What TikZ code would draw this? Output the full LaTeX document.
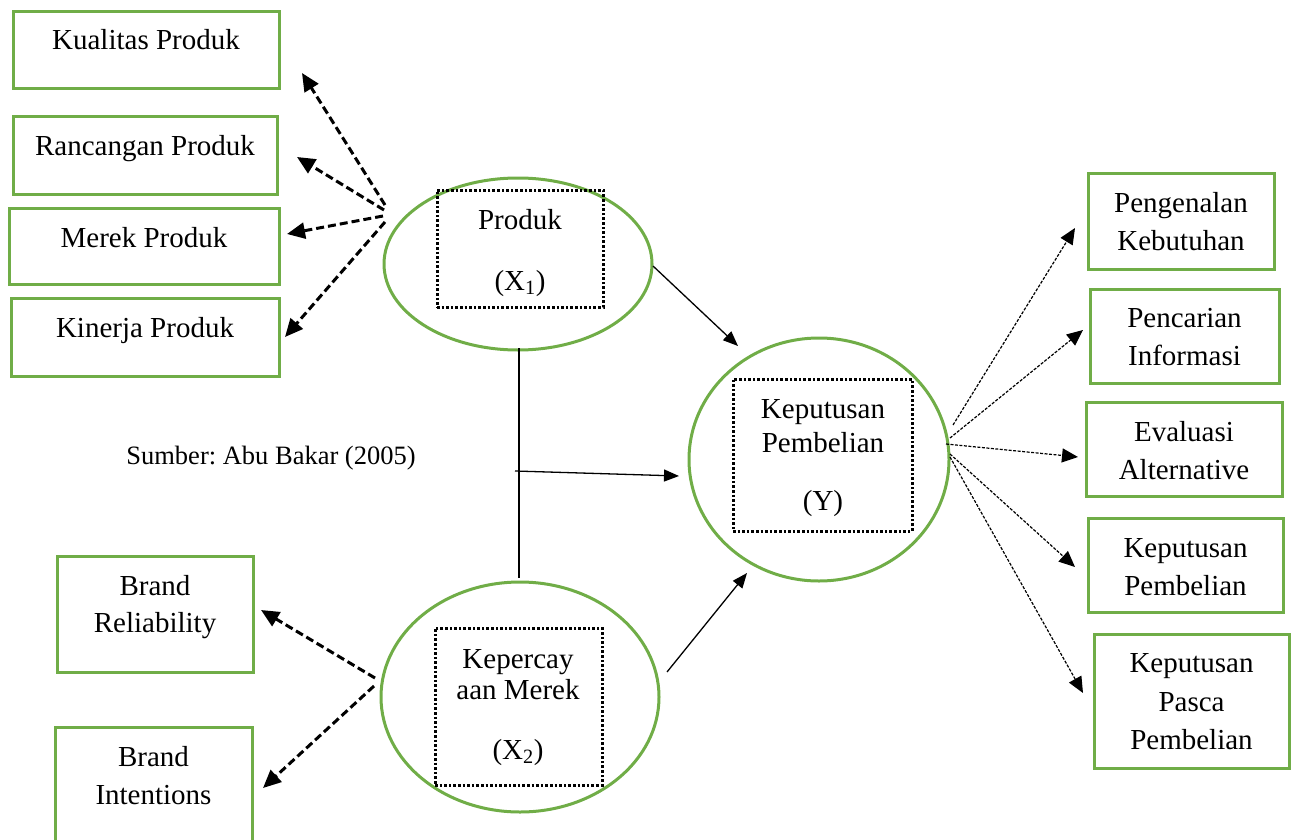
\documentclass[tikz,border=0pt]{standalone}
\usepackage{fontspec}
\setmainfont{Liberation Serif}
\usetikzlibrary{shapes.geometric,arrows.meta}
\definecolor{gr}{RGB}{112,173,71}
\frenchspacing
\tikzset{
  gbox/.style={draw=gr, line width=3pt, rectangle, inner sep=0pt},
  ell/.style={draw=gr, line width=3pt, ellipse, inner sep=0pt},
  dbox/.style={draw=black, line width=3pt, dash pattern=on 2.6pt off 2pt, rectangle, inner sep=0pt},
  txt/.style={anchor=base, inner sep=0pt, font=\fontsize{29}{35}\selectfont},
  stxt/.style={anchor=base, inner sep=0pt, font=\fontsize{26.5}{31}\selectfont},
  thickdash/.style={line width=3pt, dash pattern=on 8pt off 4pt, -{Triangle[length=18pt,width=16pt]}},
  thindash/.style={line width=1.2pt, dash pattern=on 3pt off 1.5pt, -{Triangle[length=16pt,width=14pt]}},
  solidarr/.style={line width=1.3pt, -{Triangle[length=15pt,width=12pt]}},
}
\begin{document}
\begin{tikzpicture}[x=1pt,y=-1pt]
\useasboundingbox (0,0) rectangle (1295,840);
% left boxes
\node[gbox, minimum width=266pt, minimum height=77pt] (b1) at (146,50.5) {};
\node[txt] (t1) at (146,50) {Kualitas Produk};
\node[gbox, minimum width=264pt, minimum height=77pt] (b2) at (145,155.5) {};
\node[txt] (t2) at (145,155) {Rancangan Produk};
\node[gbox, minimum width=270pt, minimum height=76pt] (b3) at (144,246) {};
\node[txt] (t3) at (144,247) {Merek Produk};
\node[gbox, minimum width=268pt, minimum height=78pt] (b4) at (145,337) {};
\node[txt] (t4) at (145,337) {Kinerja Produk};
\node[gbox, minimum width=196pt, minimum height=116pt] (b5) at (155,614) {};
\node[txt] (t5a) at (155,595) {Brand};
\node[txt] (t5b) at (155,632) {Reliability};
\node[gbox, minimum width=197pt, minimum height=126pt] (b6) at (153.5,790) {};
\node[txt] (t6a) at (153.5,766) {Brand};
\node[txt] (t6b) at (153.5,804) {Intentions};
% right boxes
\node[gbox, minimum width=186pt, minimum height=96pt] (r1) at (1181,221) {};
\node[txt] (r1a) at (1181,212) {Pengenalan};
\node[txt] (r1b) at (1181,250) {Kebutuhan};
\node[gbox, minimum width=189pt, minimum height=94pt] (r2) at (1184.5,336) {};
\node[txt] (r2a) at (1184.5,327) {Pencarian};
\node[txt] (r2b) at (1184.5,365) {Informasi};
\node[gbox, minimum width=196pt, minimum height=94pt] (r3) at (1184,449) {};
\node[txt] (r3a) at (1184,441) {Evaluasi};
\node[txt] (r3b) at (1184,479) {Alternative};
\node[gbox, minimum width=195pt, minimum height=94pt] (r4) at (1185.5,565) {};
\node[txt] (r4a) at (1185.5,557) {Keputusan};
\node[txt] (r4b) at (1185.5,595) {Pembelian};
\node[gbox, minimum width=195pt, minimum height=134pt] (r5) at (1191.5,701) {};
\node[txt] (r5a) at (1191.5,672) {Keputusan};
\node[txt] (r5b) at (1191.5,711) {Pasca};
\node[txt] (r5c) at (1191.5,749) {Pembelian};
% ellipses
\node[ell, minimum width=268pt, minimum height=172pt] (P) at (518,264) {};
\node[dbox, minimum width=166pt, minimum height=117pt] (Pd) at (520,248.5) {};
\node[txt] (Pa) at (520,229) {Produk};
\node[txt] (Pb) at (520,290) {(X\textsubscript{1})};
\node[ell, minimum width=260pt, minimum height=243pt] (Y) at (819,459.5) {};
\node[dbox, minimum width=179pt, minimum height=152pt] (Yd) at (822.5,455) {};
\node[txt] (Ya) at (823,418) {Keputusan};
\node[txt] (Yb) at (823,452) {Pembelian};
\node[txt] (Yc) at (823,510) {(Y)};
\node[ell, minimum width=278pt, minimum height=230pt] (K) at (520,697) {};
\node[dbox, minimum width=167pt, minimum height=157pt] (Kd) at (518.5,706.5) {};
\node[txt] (Ka) at (518,668) {Kepercay};
\node[txt] (Kb) at (518,699) {aan Merek};
\node[txt] (Kc) at (518,759) {(X\textsubscript{2})};
% source
\node[stxt] (src) at (271,464) {Sumber: Abu Bakar (2005)};
% connector coordinates
\coordinate (ps1) at (385,205);
\coordinate (ps2) at (384,210);
\coordinate (ps3) at (383,216);
\coordinate (ps4) at (385,222);
\coordinate (pe1) at (302,73);
\coordinate (pe2) at (297,157);
\coordinate (pe3) at (287,234);
\coordinate (pe4) at (285,337);
\coordinate (ks1) at (375,678);
\coordinate (ks2) at (374,686);
\coordinate (ke1) at (261,610);
\coordinate (ke2) at (263,788);
\coordinate (ys1) at (953,425);
\coordinate (ys2) at (950,438);
\coordinate (ys3) at (946,444);
\coordinate (ys4) at (950,454);
\coordinate (ys5) at (950,457);
\coordinate (ye1) at (1075,228);
\coordinate (ye2) at (1083,330);
\coordinate (ye3) at (1078,457);
\coordinate (ye4) at (1075,567);
\coordinate (ye5) at (1083,693);
\coordinate (a1) at (653,266);
\coordinate (a1e) at (738,346);
\coordinate (a2) at (667,672);
\coordinate (a2e) at (747,573);
\coordinate (v1) at (519,348);
\coordinate (v2) at (519,578);
\coordinate (h1) at (515,471);
\coordinate (h2) at (679,476);
% connectors
\draw[thickdash] (ps1) -- (pe1);
\draw[thickdash] (ps2) -- (pe2);
\draw[thickdash] (ps3) -- (pe3);
\draw[thickdash] (ps4) -- (pe4);
\draw[thickdash] (ks1) -- (ke1);
\draw[thickdash] (ks2) -- (ke2);
\draw[thindash] (ys1) -- (ye1);
\draw[thindash] (ys2) -- (ye2);
\draw[thindash] (ys3) -- (ye3);
\draw[thindash] (ys4) -- (ye4);
\draw[thindash] (ys5) -- (ye5);
\draw[solidarr] (a1) -- (a1e);
\draw[solidarr] (a2) -- (a2e);
\draw[line width=1.3pt] (v1) -- (v2);
\draw[solidarr] (h1) -- (h2);
\end{tikzpicture}
\end{document}
